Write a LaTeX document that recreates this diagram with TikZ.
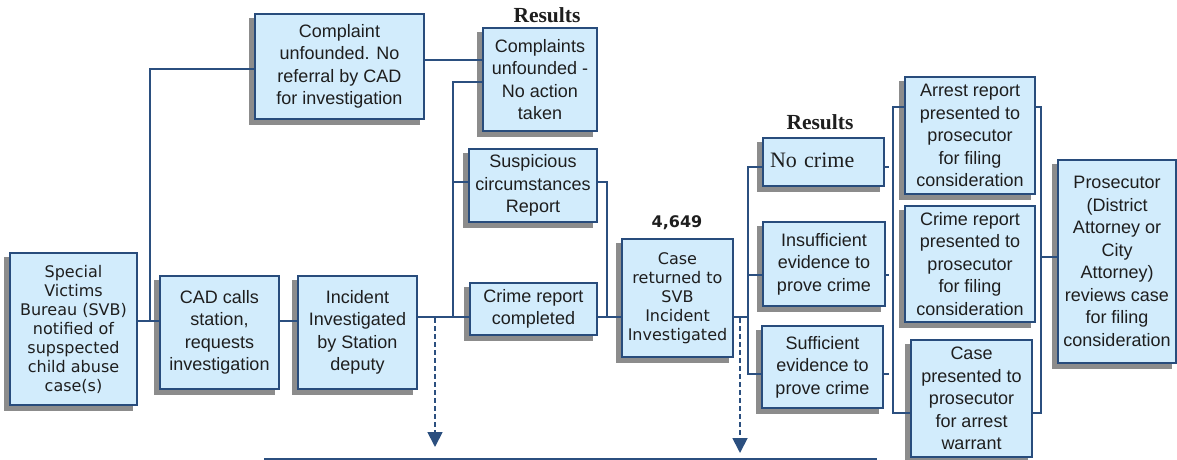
\documentclass[tikz,border=0pt]{standalone}
\usepackage{fontspec}
\setmainfont{Liberation Sans}
\newfontfamily\verdfont{DejaVu Sans}
\newfontfamily\timesfont{Liberation Serif}
\usetikzlibrary{arrows.meta,backgrounds}
\definecolor{boxfill}{HTML}{D2ECFC}
\definecolor{boxline}{HTML}{284C7C}
\definecolor{linkline}{HTML}{2B4F7F}
\definecolor{shadegray}{HTML}{8C8C8C}
\definecolor{inktext}{HTML}{1E1E1E}
\begin{document}
\begin{tikzpicture}[x=1pt,y=-1pt]
\tikzstyle{flow node}=[rectangle,draw=boxline,fill=boxfill,line width=1.5pt,inner sep=0pt,align=center,text=inktext,font=\fontsize{18}{22.5}\selectfont]
\tikzstyle{verd node}=[flow node,font=\verdfont\fontsize{16}{19}\selectfont]
\tikzset{
	link/.style={draw=linkline,line width=1.8pt},
	dash link/.style={link,dash pattern=on 5pt off 3pt,-{Triangle[width=15pt,length=15pt]}},
	result label/.style={font=\timesfont\bfseries\fontsize{21.5}{24}\selectfont,text=inktext},
	shade box/.style={fill=shadegray}
}
\useasboundingbox (0,0) rectangle (1177,460);
\node[verd node,minimum width=127pt,minimum height=152pt] (svb) at (73.5,329) {Special\\Victims\\Bureau (SVB)\\notified of\\supspected\\child abuse\\case(s)};
\node[flow node,minimum width=119pt,minimum height=113pt] (cad) at (219.5,332.5) {CAD calls\\station,\\requests\\investigation};
\node[flow node,minimum width=119pt,minimum height=113pt] (inc) at (357.5,332.5) {Incident\\Investigated\\by Station\\deputy};
\node[flow node,minimum width=169pt,minimum height=105pt] (cnf) at (339.5,66.5) {Complaint\\unfounded. No\\referral by CAD\\for investigation};
\node[flow node,minimum width=114pt,minimum height=103pt] (cun) at (540,79.5) {Complaints\\unfounded -\\No action\\taken};
\node[flow node,minimum width=128pt,minimum height=73pt] (sus) at (533,185.5) {Suspicious\\circumstances\\Report};
\node[flow node,minimum width=127pt,minimum height=52pt] (crc) at (533.5,309) {Crime report\\completed};
\node[verd node,minimum width=111pt,minimum height=118pt] (ret) at (677.5,298) {Case\\returned to\\SVB\\Incident\\Investigated};
\node[flow node,minimum width=121pt,minimum height=48pt,text width=107pt,align=left,font=\timesfont\fontsize{22}{24}\selectfont] (noc) at (823.5,162) {\raisebox{4pt}{No crime}};
\node[flow node,minimum width=122pt,minimum height=84pt] (ins) at (824,264) {Insufficient\\evidence to\\prove crime};
\node[flow node,minimum width=121pt,minimum height=82pt] (suf) at (822.5,367) {Sufficient\\evidence to\\prove crime};
\node[flow node,minimum width=130pt,minimum height=117pt] (arr) at (970,135.5) {Arrest report\\presented to\\prosecutor\\for filing\\consideration};
\node[flow node,minimum width=130pt,minimum height=116pt] (crp) at (970,264) {Crime report\\presented to\\prosecutor\\for filing\\consideration};
\node[flow node,minimum width=121pt,minimum height=117pt] (cpr) at (971.5,398.5) {Case\\presented to\\prosecutor\\for arrest\\warrant};
\node[flow node,minimum width=118pt,minimum height=203pt] (pro) at (1117,261.5) {Prosecutor\\(District\\Attorney or\\City\\Attorney)\\reviews case\\for filing\\consideration};
\node[result label] (res1) at (547,15) {Results};
\node[result label] (res2) at (820,122) {Results};
\node[font=\verdfont\bfseries\fontsize{16}{19}\selectfont,text=inktext] (cnt) at (677,223) {4,649};
\begin{scope}[on background layer]
\foreach \n in {svb,cad,inc,cnf,cun,sus,crc,ret,noc,ins,suf,arr,crp,cpr,pro}
	\fill[shade box] ([shift={(-5,5)}]\n.south west) rectangle ([shift={(-5,5)}]\n.north east);
\end{scope}
\coordinate (a1) at (150,321);
\coordinate (a2) at (150,69);
\coordinate (b1) at (453,317);
\coordinate (b2) at (453,82);
\coordinate (b3) at (453,182);
\coordinate (c1) at (0,60);
\coordinate (d1) at (607,182);
\coordinate (d2) at (607,317);
\coordinate (e1) at (748,317);
\coordinate (e2) at (748,167);
\coordinate (e3) at (748,275);
\coordinate (e4) at (748,374);
\coordinate (f1) at (889,167);
\coordinate (f2) at (889,275);
\coordinate (f3) at (889,374);
\coordinate (g1) at (893,107);
\coordinate (g2) at (893,413);
\coordinate (h1) at (1041,107);
\coordinate (h2) at (1041,413);
\coordinate (h3) at (1041,257);
\coordinate (k1) at (435,318);
\coordinate (k2) at (435,447);
\coordinate (m1) at (740,318);
\coordinate (m2) at (740,453);
\coordinate (n1) at (264,459);
\coordinate (n2) at (877,459);
\draw[link] (svb.east |- a1) -- (cad.west |- a1);
\draw[link] (a1) -- (a2) -- (cnf.west |- a2);
\draw[link] (cad.east |- a1) -- (inc.west |- a1);
\draw[link] (inc.east |- b1) -- (crc.west |- b1);
\draw[link] (b1) -- (b2) -- (cun.west |- b2);
\draw[link] (b3) -- (sus.west |- b3);
\draw[link] (cnf.east |- c1) -- (cun.west |- c1);
\draw[link] (sus.east |- d1) -- (d1) -- (d2);
\draw[link] (crc.east |- d2) -- (ret.west |- d2);
\draw[link] (ret.east |- e1) -- (e1);
\draw[link] (noc.west |- e2) -- (e2) -- (e4) -- (suf.west |- e4);
\draw[link] (e3) -- (ins.west |- e3);
\draw[link] (noc.east |- f1) -- (f1);
\draw[link] (ins.east |- f2) -- (f2);
\draw[link] (suf.east |- f3) -- (f3);
\draw[link] (arr.west |- g1) -- (g1) -- (g2) -- (cpr.west |- g2);
\draw[link] (arr.east |- h1) -- (h1) -- (h2) -- (cpr.east |- h2);
\draw[link] (h3) -- (pro.west |- h3);
\draw[dash link] (k1) -- (k2);
\draw[dash link] (m1) -- (m2);
\draw[link] (n1) -- (n2);
\end{tikzpicture}
\end{document}
